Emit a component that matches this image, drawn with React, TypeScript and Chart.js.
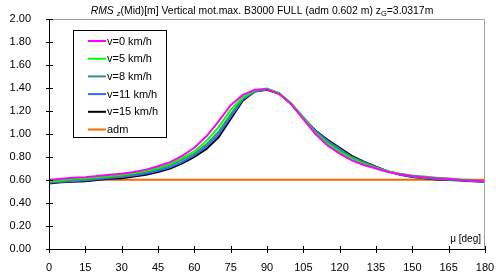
import React, { useEffect, useRef } from "react";
import { Chart, registerables } from "chart.js";
Chart.register(...registerables);

const angles = [0,5,10,15,20,25,30,35,40,45,50,55,60,65,70,75,80,85,90,95,100,105,110,115,120,125,130,135,140,145,150,155,160,165,170,175,180];
const v0 = [0.60,0.61,0.62,0.625,0.635,0.645,0.655,0.67,0.69,0.72,0.755,0.81,0.88,0.98,1.11,1.25,1.34,1.385,1.39,1.35,1.26,1.13,1.00,0.90,0.83,0.77,0.73,0.70,0.67,0.65,0.635,0.625,0.615,0.61,0.60,0.595,0.59];
const v5 = [0.59,0.60,0.61,0.615,0.625,0.635,0.645,0.66,0.68,0.705,0.74,0.79,0.85,0.94,1.06,1.21,1.32,1.38,1.395,1.355,1.265,1.14,1.01,0.915,0.845,0.785,0.74,0.705,0.675,0.655,0.64,0.63,0.62,0.612,0.605,0.60,0.59];
const v8 = [0.58,0.59,0.60,0.605,0.615,0.625,0.635,0.65,0.67,0.695,0.725,0.775,0.83,0.91,1.02,1.17,1.31,1.375,1.39,1.355,1.265,1.145,1.02,0.93,0.86,0.795,0.75,0.71,0.675,0.65,0.632,0.62,0.612,0.605,0.60,0.595,0.588];
const v11 = [0.575,0.585,0.59,0.597,0.607,0.617,0.625,0.64,0.657,0.68,0.71,0.755,0.815,0.89,0.995,1.15,1.30,1.37,1.39,1.352,1.262,1.143,1.025,0.94,0.87,0.80,0.755,0.712,0.675,0.647,0.628,0.617,0.608,0.602,0.597,0.592,0.587];
const v15 = [0.57,0.58,0.585,0.59,0.60,0.61,0.615,0.63,0.645,0.67,0.70,0.745,0.80,0.87,0.97,1.13,1.29,1.37,1.385,1.35,1.26,1.14,1.03,0.95,0.88,0.81,0.76,0.715,0.675,0.645,0.625,0.615,0.605,0.60,0.595,0.59,0.585];
const admValue = 0.602;
const seriesLabels = ["v=0 km/h", "v=5 km/h", "v=8 km/h", "v=11 km/h", "v=15 km/h", "adm"];
const seriesColors = ["#FF00FF", "#00FF00", "#339966", "#3366FF", "#000000", "#FF6600"];
const xTicks = [0,15,30,45,60,75,90,105,120,135,150,165,180];
const yTicks = [0,0.2,0.4,0.6,0.8,1.0,1.2,1.4,1.6,1.8,2.0];

const FONT = "Arial, 'Liberation Sans', sans-serif";

const decorPlugin = {
  id: "decor",
  afterDraw(chart: any) {
    const ctx = chart.ctx;
    const a = chart.chartArea;
    const xs = chart.scales.x;
    const ys = chart.scales.y;
    ctx.save();
    ctx.strokeStyle = "#a0a0a0";
    ctx.lineWidth = 1;
    ctx.beginPath();
    ctx.moveTo(a.left, a.top + 0.5);
    ctx.lineTo(a.right - 0.5, a.top + 0.5);
    ctx.lineTo(a.right - 0.5, a.bottom);
    ctx.stroke();
    ctx.strokeStyle = "#000";
    ctx.beginPath();
    ctx.moveTo(a.left + 0.5, a.top);
    ctx.lineTo(a.left + 0.5, a.bottom + 0.5);
    ctx.lineTo(a.right, a.bottom + 0.5);
    ctx.stroke();
    ctx.beginPath();
    for (const t of yTicks) {
      const y = Math.round(ys.getPixelForValue(t)) + 0.5;
      ctx.moveTo(a.left - 3, y);
      ctx.lineTo(a.left + 4, y);
    }
    for (const t of xTicks) {
      const x = Math.round(xs.getPixelForValue(t)) + 0.5;
      ctx.moveTo(x, a.bottom - 3);
      ctx.lineTo(x, a.bottom + 4);
    }
    ctx.stroke();

    const parts: [string, string, number][] = [
      ["RMS", "italic 10.4px " + FONT, 0],
      ["z", "italic 7.5px " + FONT, 2],
      ["(Mid)[m] Vertical mot.max. B3000 FULL (adm 0.602 m) z", "10.4px " + FONT, 0],
      ["G", "7.5px " + FONT, 2],
      ["=3.0317m", "10.4px " + FONT, 0],
    ];
    let total = 0;
    const widths: number[] = [];
    for (let i = 0; i < parts.length; i++) {
      ctx.font = parts[i][1];
      let w = ctx.measureText(parts[i][0]).width;
      if (i === 0) w += 3;
      widths.push(w);
      total += w;
    }
    let x = 262 - total / 2;
    ctx.fillStyle = "#000";
    ctx.textBaseline = "alphabetic";
    ctx.textAlign = "left";
    for (let i = 0; i < parts.length; i++) {
      ctx.font = parts[i][1];
      ctx.fillText(parts[i][0], x, 14 + parts[i][2]);
      x += widths[i];
    }

    ctx.font = "10px " + FONT;
    ctx.textAlign = "right";
    ctx.fillText("\u03bc [deg]", a.right - 4, 242);

    ctx.fillStyle = "#fff";
    ctx.fillRect(73.5, 30.5, 93, 107);
    ctx.strokeStyle = "#000";
    ctx.lineWidth = 1;
    ctx.strokeRect(73.5, 30.5, 93, 107);
    ctx.font = "11px " + FONT;
    ctx.textAlign = "left";
    ctx.textBaseline = "middle";
    for (let i = 0; i < seriesLabels.length; i++) {
      const y = 41 + i * 17.7;
      ctx.strokeStyle = seriesColors[i];
      ctx.lineWidth = 2;
      ctx.beginPath();
      ctx.moveTo(88, y);
      ctx.lineTo(106, y);
      ctx.stroke();
      ctx.fillStyle = "#000";
      ctx.fillText(seriesLabels[i], 107, y + 0.5);
    }
    ctx.restore();
  },
};

export default function App() {
  const ref = useRef<HTMLCanvasElement>(null);
  useEffect(() => {
    if (!ref.current) return;
    const curves = [v0, v5, v8, v11, v15];
    const datasets: any[] = curves.map((vals, i) => ({
      label: seriesLabels[i],
      data: angles.map((a, j) => ({ x: a, y: vals[j] })),
      borderColor: seriesColors[i],
      borderWidth: 2,
      pointRadius: 0,
      tension: 0,
      fill: false,
    }));
    datasets.push({
      label: seriesLabels[5],
      data: [{ x: 0, y: admValue }, { x: 180, y: admValue }],
      borderColor: seriesColors[5],
      borderWidth: 2,
      pointRadius: 0,
      fill: false,
    });
    const chart = new Chart(ref.current, {
      type: "line",
      data: { datasets },
      plugins: [decorPlugin],
      options: {
        animation: false,
        responsive: false,
        maintainAspectRatio: false,
        layout: { padding: { top: 19, right: 11, left: 0, bottom: 0 } },
        plugins: { legend: { display: false }, title: { display: false }, tooltip: { enabled: false } },
        scales: {
          x: {
            type: "linear",
            min: 0,
            max: 180,
            afterBuildTicks: (s: any) => { s.ticks = xTicks.map((v) => ({ value: v })); },
            afterFit: (s: any) => { s.height = 26; s.paddingLeft = 0; s.paddingRight = 0; },
            grid: { display: false },
            border: { display: false },
            ticks: { color: "#000", font: { family: FONT, size: 11 }, padding: 4, maxRotation: 0, autoSkip: false },
          },
          y: {
            type: "linear",
            min: 0,
            max: 2,
            afterBuildTicks: (s: any) => { s.ticks = yTicks.map((v) => ({ value: v })); },
            afterFit: (s: any) => { s.width = 49; s.paddingTop = 0; s.paddingBottom = 0; },
            grid: { display: false },
            border: { display: false },
            ticks: { color: "#000", font: { family: FONT, size: 11 }, padding: 10, callback: (v: any) => Number(v).toFixed(2) },
          },
        },
      } as any,
    });
    return () => chart.destroy();
  }, []);
  return (
    <div style={{ position: "fixed", left: 0, top: 0, width: 496, height: 275, background: "#fff" }}>
      <canvas ref={ref} width={496} height={275} style={{ width: 496, height: 275 }} />
    </div>
  );
}
